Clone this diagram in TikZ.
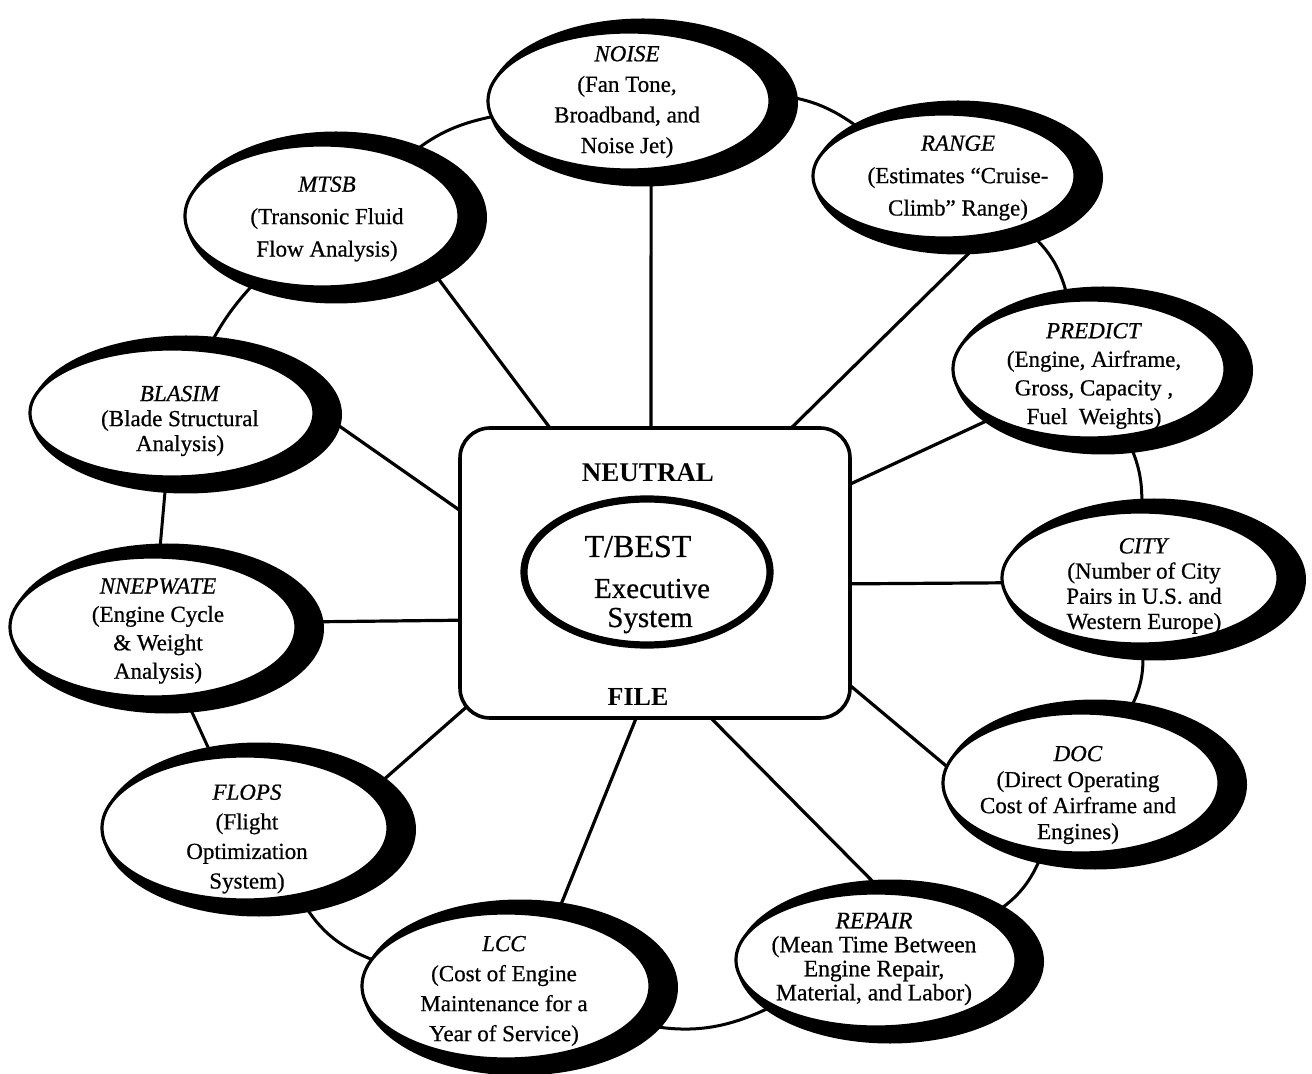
\documentclass[tikz,border=0pt]{standalone}
\usepackage{fontspec}
\setmainfont{Liberation Serif}[UprightFeatures={FakeBold=0.6},ItalicFeatures={FakeBold=0.6}]
\usetikzlibrary{shapes.geometric}
\pgfdeclarelayer{bg}
\pgfdeclarelayer{shad}
\pgfsetlayers{bg,shad,main}
\tikzset{
  bub/.style={shape=ellipse, draw=black, fill=white, line width=1.6pt, inner sep=0pt, outer sep=0pt},
  ringline/.style={line width=1.5pt},
  spokeline/.style={line width=1.6pt},
  hubbox/.style={draw=black, fill=white, line width=1.8pt, rounded corners=15pt, inner sep=0pt, outer sep=0pt},
  coreell/.style={shape=ellipse, draw=black, fill=white, line width=3.6pt, inner sep=0pt, outer sep=0pt},
  caplabel/.style={inner sep=0pt, font=\bfseries\fontsize{13.5}{16}\selectfont},
  corelabel/.style={inner sep=0pt, anchor=base},
}
% name, x, y, rx, ry (px), text dx, text dy (px), font, text
\newcommand\mybub[9]{%
  \begin{pgfonlayer}{shad}
    \fill[black] (#2+14,#3+1.5) ellipse [x radius=#4*0.5pt+7pt, y radius=#5*0.5pt+7.5pt];
  \end{pgfonlayer}
  \node[bub, minimum width=#4pt, minimum height=#5pt] (#1) at (#2,#3)
    {\makebox[0pt]{\hspace*{#6pt}\smash{\raisebox{\dimexpr-3pt-#7pt/2\relax}{\parbox[c]{9cm}{#8\centering #9}}}}};
}
\begin{document}
\begin{tikzpicture}[x=0.5pt,y=-0.5pt]
\useasboundingbox (0,0) rectangle (1312,1074);

\mybub{noise}{629}{101}{141}{69}{-2}{0}{\fontsize{11.5}{15.3}\selectfont}{\textit{NOISE}\\(Fan Tone,\\Broadband, and\\Noise Jet)}
\mybub{range}{944}{176}{131}{62}{14}{1}{\fontsize{11.5}{16.2}\selectfont}{\textit{RANGE}\\(Estimates ``Cruise-\\Climb'' Range)}
\mybub{predict}{1089}{369}{136}{69}{5}{6}{\fontsize{11.5}{14.3}\selectfont}{\textit{PREDICT}\\(Engine, Airframe,\\Gross, Capacity ,\\Fuel~~Weights)}
\mybub{city}{1140}{578}{138}{66}{4}{7}{\fontsize{11.5}{12.6}\selectfont}{\textit{CITY}\\(Number of City\\Pairs in U.S.\ and\\Western Europe)}
\mybub{doc}{1081}{783}{138}{70}{-3}{11}{\fontsize{11.5}{13}\selectfont}{\textit{DOC}\\(Direct Operating\\Cost of Airframe and\\Engines)}
\mybub{repair}{876}{960}{140}{67}{-2}{-2}{\fontsize{11.8}{12}\selectfont}{\textit{REPAIR}\\(Mean Time Between\\Engine Repair,\\Material, and Labor)}
\mybub{lcc}{506}{986}{144}{73}{-2}{4}{\fontsize{11.5}{15}\selectfont}{\textit{LCC}\\(Cost of Engine\\Maintenance for a\\Year of Service)}
\mybub{flops}{245}{828}{143}{72}{2}{10}{\fontsize{11.5}{14.8}\selectfont}{\textit{FLOPS}\\(Flight\\Optimization\\System)}
\mybub{nnepwate}{153}{627}{143}{70}{5}{3}{\fontsize{11.5}{14.2}\selectfont}{\textit{NNEPWATE}\\(Engine Cycle\\\&~Weight\\Analysis)}
\mybub{blasim}{172}{413}{142}{64}{8}{7}{\fontsize{11.5}{12.5}\selectfont}{\textit{BLASIM}\\(Blade Structural\\Analysis)}
\mybub{mtsb}{322}{216}{137}{71}{5}{2}{\fontsize{11.5}{16.2}\selectfont}{\textit{MTSB}\\(Transonic Fluid\\Flow Analysis)}

\node[hubbox, minimum width=195pt, minimum height=145pt] (hub) at (655,573) {};
\node[coreell, minimum width=123pt, minimum height=73pt] (tbest) at (647,572) {};
\node[caplabel] (neutral) at (648,473) {NEUTRAL};
\node[caplabel, font=\bfseries\fontsize{13}{16}\selectfont] (file) at (638,697) {FILE};
\node[corelabel, font=\fontsize{16}{19}\selectfont] (tb) at (638,557) {T/BEST};
\node[corelabel, font=\fontsize{14.5}{17}\selectfont] (exe) at (652,598) {Executive};
\node[corelabel, font=\fontsize{14.5}{17}\selectfont] (sys) at (650,627) {System};

\begin{pgfonlayer}{bg}
  % ring
  \draw[ringline] (noise) to[bend left=16] (range);
  \draw[ringline] (range) to[bend left=20] (predict);
  \draw[ringline] (predict) to[bend left=15] (city);
  \draw[ringline] (city) to[bend left=18] (doc);
  \draw[ringline] (doc) to[bend left=20] (repair);
  \draw[ringline] (repair) to[bend left=20] (lcc);
  \draw[ringline] (lcc) to[bend left=20] (flops);
  \draw[ringline] (flops) -- (nnepwate);
  \draw[ringline] (nnepwate) -- (blasim);
  \draw[ringline] (blasim) to[bend left=8] (mtsb);
  \draw[ringline] (mtsb) to[bend left=14] (noise);
  % spokes
  \coordinate (inNoise) at (651,445);
  \coordinate (inMtsb) at (562,444);
  \coordinate (inRange) at (777,442);
  \coordinate (inPredict) at (831,493);
  \coordinate (inCity) at (830,584);
  \coordinate (inDoc) at (834,672);
  \coordinate (inRepair) at (697,704);
  \coordinate (inLcc) at (643,701);
  \coordinate (inFlops) at (479,696);
  \coordinate (inNnep) at (480,620);
  \coordinate (inBlasim) at (475,521);
  \draw[spokeline] (noise.-72.1) -- (inNoise);
  \draw[spokeline] (mtsb.-24) -- (inMtsb);
  \draw[spokeline] (range.-53) -- (inRange);
  \draw[spokeline] (predict.207) -- (inPredict);
  \draw[spokeline] (city.182.5) -- (inCity);
  \draw[spokeline] (doc.173) -- (inDoc);
  \draw[spokeline] (repair.83) -- (inRepair);
  \draw[spokeline] (lcc.54) -- (inLcc);
  \draw[spokeline] (flops.16) -- (inFlops);
  \draw[spokeline] (nnepwate.2.8) -- (inNnep);
  \draw[spokeline] (blasim.2) -- (inBlasim);
\end{pgfonlayer}
\end{tikzpicture}
\end{document}
